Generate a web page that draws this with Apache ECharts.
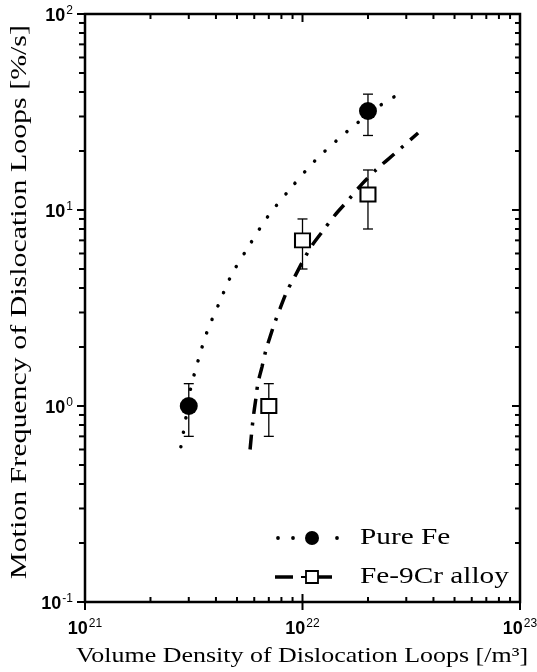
<!DOCTYPE html>
<html>
<head>
<meta charset="utf-8">
<script src="https://cdn.jsdelivr.net/npm/echarts@6/dist/echarts.min.js"></script>
<style>
  html, body { margin: 0; padding: 0; background: #fff; }
  #chart { width: 537px; height: 672px; }
</style>
</head>
<body>
<div id="chart"></div>
<script>
// Measured points: loop density [/m^3], motion frequency [%/s] and error limits
const pureFeX    = [3e21, 2e22];
const pureFeY    = [1.0, 32];
const pureFeLow  = [0.7, 24];
const pureFeHigh = [1.3, 39];

const feCrX    = [7e21, 1e22, 2e22];
const feCrY    = [1.0, 7, 12];
const feCrLow  = [0.7, 5, 8];
const feCrHigh = [1.3, 9, 16];

// Fitted trend curves
const fitFeX = [2.76e21, 2.91e21, 3.04e21, 3.31e21, 3.64e21, 4.12e21, 4.71e21, 5.66e21, 6.87e21, 8.77e21, 1.15e22, 1.60e22, 2.22e22, 2.64e22];
const fitFeY = [0.62, 0.87, 1.19, 1.70, 2.39, 3.31, 4.65, 6.53, 9.14, 12.8, 18.0, 25.1, 33.5, 37.8];

const fitCrX = [5.74e21, 5.92e21, 6.11e21, 6.24e21, 6.51e21, 6.79e21, 7.09e21, 7.47e21, 7.97e21, 8.49e21, 9.24e21, 1.005e22, 1.11e22, 1.24e22, 1.41e22, 1.62e22, 1.88e22, 2.20e22, 2.64e22, 3.40e22];
const fitCrY = [0.60, 0.85, 1.10, 1.31, 1.58, 1.93, 2.25, 2.68, 3.24, 3.86, 4.60, 5.50, 6.63, 7.81, 9.42, 11.2, 13.6, 16.2, 19.3, 24.7];

// Axis ranges and decade exponents
const xMinExp = 21, xMaxExp = 23;
const yMinExp = -1, yMaxExp = 2;
const seriesNames = ['Pure Fe', 'Fe-9Cr alloy'];
const xTitle = 'Volume Density of Dislocation Loops [/m³]';
const yTitle = 'Motion Frequency of Dislocation Loops [%/s]';

// Tick values: decades are major, 2..9 multiples are minor
function decadeTicks(lo, hi) {
  const out = [];
  for (let e = lo; e <= hi; e++) {
    out.push([Math.pow(10, e), 1, 1]);
    if (e < hi) for (let m = 2; m <= 9; m++) out.push([m * Math.pow(10, e), 0, 1]);
  }
  return out;
}
const xTicks = decadeTicks(xMinExp, xMaxExp);
const yTicks = decadeTicks(yMinExp, yMaxExp);

const zip = (a, b) => a.map((v, i) => [v, b[i]]);
const zip3 = (a, b, c) => a.map((v, i) => [v, b[i], c[i]]);

const chart = echarts.init(document.getElementById('chart'), null, { renderer: 'canvas' });

const black = '#000';
const serif = '"Liberation Serif", "Times New Roman", Times, serif';
const sans = '"Liberation Sans", Arial, Helvetica, sans-serif';

function expLabel(v) {
  const e = Math.round(Math.log10(v));
  return '{base|10}{sup|' + e + '}';
}
const labelRich = {
  base: { fontSize: 18, fontWeight: 'bold', fontFamily: sans, color: black, verticalAlign: 'bottom', lineHeight: 22 },
  sup: { fontSize: 12, fontFamily: sans, color: black, verticalAlign: 'bottom', lineHeight: 22, padding: [0, 0, 8, 1] }
};

function errorBars(params, api) {
  const x = api.value(0);
  const lo = api.coord([x, api.value(1)]);
  const hi = api.coord([x, api.value(2)]);
  const cap = 5;
  const st = { stroke: black, lineWidth: 1.3 };
  return {
    type: 'group',
    children: [
      { type: 'line', shape: { x1: lo[0], y1: lo[1], x2: hi[0], y2: hi[1] }, style: st },
      { type: 'line', shape: { x1: lo[0] - cap, y1: lo[1], x2: lo[0] + cap, y2: lo[1] }, style: st },
      { type: 'line', shape: { x1: hi[0] - cap, y1: hi[1], x2: hi[0] + cap, y2: hi[1] }, style: st }
    ]
  };
}

function xTickItem(params, api) {
  const cs = params.coordSys;
  const x = api.coord([api.value(0), 1])[0];
  const major = api.value(1) === 1;
  const st = { stroke: black, lineWidth: 2 };
  const bottom = cs.y + cs.height, top = cs.y;
  const children = [];
  if (major) {
    children.push({ type: 'line', shape: { x1: x, y1: bottom - 8, x2: x, y2: bottom + 8 }, style: st });
    children.push({ type: 'line', shape: { x1: x, y1: top, x2: x, y2: top + 8 }, style: st });
  } else {
    children.push({ type: 'line', shape: { x1: x, y1: bottom, x2: x, y2: bottom - 5 }, style: st });
    children.push({ type: 'line', shape: { x1: x, y1: top, x2: x, y2: top + 5 }, style: st });
  }
  return { type: 'group', children };
}

function yTickItem(params, api) {
  const cs = params.coordSys;
  const y = api.coord([1e22, api.value(0)])[1];
  const major = api.value(1) === 1;
  const st = { stroke: black, lineWidth: 2 };
  const left = cs.x, right = cs.x + cs.width;
  const len = major ? 8 : 6;
  return {
    type: 'group',
    children: [
      { type: 'line', shape: { x1: left - len, y1: y, x2: left, y2: y }, style: st },
      { type: 'line', shape: { x1: right, y1: y, x2: right - (major ? 8 : 5), y2: y }, style: st }
    ]
  };
}

// Legend drawn as a small key block in the lower right of the plot
const legendX = 275, legendRow1 = 538, legendRow2 = 577, legendText = 360;
const legendFont = { fontFamily: serif, fontSize: 24, fill: black, textVerticalAlign: 'middle' };
const legendGraphics = [
  { type: 'circle', shape: { cx: legendX + 3, cy: legendRow1, r: 1.9 }, style: { fill: black } },
  { type: 'circle', shape: { cx: legendX + 18, cy: legendRow1, r: 1.9 }, style: { fill: black } },
  { type: 'circle', shape: { cx: legendX + 37, cy: legendRow1, r: 7 }, style: { fill: black } },
  { type: 'circle', shape: { cx: legendX + 62, cy: legendRow1, r: 1.9 }, style: { fill: black } },
  { type: 'text', x: legendText, y: legendRow1, style: Object.assign({ text: seriesNames[0] }, legendFont), scaleX: 1.22 },
  { type: 'line', shape: { x1: legendX, y1: legendRow2, x2: legendX + 18, y2: legendRow2 }, style: { stroke: black, lineWidth: 3.5 } },
  { type: 'line', shape: { x1: legendX + 26, y1: legendRow2, x2: legendX + 31, y2: legendRow2 }, style: { stroke: black, lineWidth: 2 } },
  { type: 'rect', shape: { x: legendX + 31, y: legendRow2 - 6, width: 12, height: 12 }, style: { fill: '#fff', stroke: black, lineWidth: 1.8 } },
  { type: 'line', shape: { x1: legendX + 43, y1: legendRow2, x2: legendX + 57, y2: legendRow2 }, style: { stroke: black, lineWidth: 3.5 } },
  { type: 'text', x: legendText, y: legendRow2, style: Object.assign({ text: seriesNames[1] }, legendFont), scaleX: 1.22 }
];

// Axis titles as stretched serif text
const titleGraphics = [
  { type: 'text', x: 302, y: 656, style: { text: xTitle, fontFamily: serif, fontSize: 22, fill: black, textAlign: 'center', textVerticalAlign: 'middle' }, scaleX: 1.18 },
  { type: 'text', x: 20, y: 302, rotation: Math.PI / 2, style: { text: yTitle, fontFamily: serif, fontSize: 23, fill: black, textAlign: 'center', textVerticalAlign: 'middle' }, scaleX: 1.3 }
];

const option = {
  backgroundColor: '#fff',
  animation: false,
  grid: {
    left: 85, right: 17, top: 14, bottom: 70,
    outerBoundsMode: 'none', containLabel: false,
    show: true, borderColor: black, borderWidth: 2.5, backgroundColor: 'transparent'
  },
  xAxis: {
    type: 'log', logBase: 10,
    min: Math.pow(10, xMinExp), max: Math.pow(10, xMaxExp),
    axisLine: { show: false },
    axisTick: { show: false },
    splitLine: { show: false },
    axisLabel: { formatter: expLabel, rich: labelRich, fontSize: 18, fontFamily: sans, color: black, margin: 14 }
  },
  yAxis: {
    type: 'log', logBase: 10,
    min: Math.pow(10, yMinExp), max: Math.pow(10, yMaxExp),
    axisLine: { show: false },
    axisTick: { show: false },
    splitLine: { show: false },
    axisLabel: { formatter: expLabel, rich: labelRich, fontSize: 18, fontFamily: sans, color: black, margin: 12 }
  },
  series: [
    {
      name: 'xticks', type: 'custom', renderItem: xTickItem, clip: false, silent: true,
      encode: { x: 0, y: 2 }, data: xTicks, z: 5
    },
    {
      name: 'yticks', type: 'custom', renderItem: yTickItem, clip: false, silent: true,
      encode: { y: 0, x: 2 }, data: yTicks.map(t => [t[0], t[1], 1e22]), z: 5
    },
    {
      name: seriesNames[0] + ' fit', type: 'line', data: zip(fitFeX, fitFeY),
      smooth: 0.3, showSymbol: false, silent: true,
      lineStyle: { color: black, width: 3.5, type: [0.1, 14.5], cap: 'round' }, z: 2
    },
    {
      name: seriesNames[1] + ' fit', type: 'line', data: zip(fitCrX, fitCrY),
      smooth: 0.3, showSymbol: false, silent: true,
      lineStyle: { color: black, width: 3.5, type: [15, 9, 3, 9], cap: 'butt' }, z: 2
    },
    {
      name: seriesNames[0] + ' error', type: 'custom', renderItem: errorBars,
      encode: { x: 0, y: [1, 2] }, data: zip3(pureFeX, pureFeLow, pureFeHigh), z: 3
    },
    {
      name: seriesNames[1] + ' error', type: 'custom', renderItem: errorBars,
      encode: { x: 0, y: [1, 2] }, data: zip3(feCrX, feCrLow, feCrHigh), z: 3
    },
    {
      name: seriesNames[0], type: 'scatter', data: zip(pureFeX, pureFeY),
      symbol: 'circle', symbolSize: 18, itemStyle: { color: black, opacity: 1 }, z: 4
    },
    {
      name: seriesNames[1], type: 'scatter', data: zip(feCrX, feCrY),
      symbol: 'rect', symbolSize: [15, 14], itemStyle: { color: '#fff', borderColor: black, borderWidth: 2, opacity: 1 }, z: 4
    }
  ],
  graphic: legendGraphics.concat(titleGraphics)
};

chart.setOption(option);
</script>
</body>
</html>
